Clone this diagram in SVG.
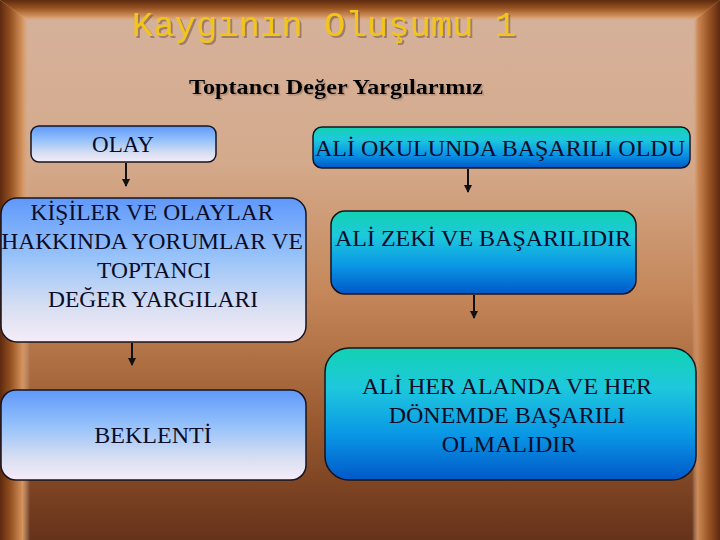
<svg xmlns="http://www.w3.org/2000/svg" width="720" height="540" viewBox="0 0 720 540">
  <defs>
    <linearGradient id="panel" x1="0" y1="0" x2="0" y2="1">
      <stop offset="0" stop-color="#d6b29c"/>
      <stop offset="0.3" stop-color="#d4aa8c"/>
      <stop offset="0.55" stop-color="#c48658"/>
      <stop offset="0.78" stop-color="#9a5a30"/>
      <stop offset="1" stop-color="#65321a"/>
    </linearGradient>
    <linearGradient id="bevL" x1="0" y1="0" x2="1" y2="0">
      <stop offset="0" stop-color="#5e2a10"/>
      <stop offset="0.35" stop-color="#94501f"/>
      <stop offset="0.75" stop-color="#d4945e"/>
      <stop offset="1" stop-color="#d6b29c" stop-opacity="0"/>
    </linearGradient>
    <linearGradient id="bevR" x1="1" y1="0" x2="0" y2="0">
      <stop offset="0" stop-color="#5e2a10"/>
      <stop offset="0.4" stop-color="#9a5424"/>
      <stop offset="0.8" stop-color="#cc8a56"/>
      <stop offset="1" stop-color="#d6b29c" stop-opacity="0"/>
    </linearGradient>
    <linearGradient id="bevT" x1="0" y1="0" x2="0" y2="1">
      <stop offset="0" stop-color="#5e2a10"/>
      <stop offset="0.35" stop-color="#94501f"/>
      <stop offset="0.75" stop-color="#d4945e"/>
      <stop offset="1" stop-color="#d6b29c" stop-opacity="0"/>
    </linearGradient>
    <linearGradient id="gBlue" x1="0" y1="0" x2="0" y2="1">
      <stop offset="0" stop-color="#5f98fa"/>
      <stop offset="0.4" stop-color="#96c2fa"/>
      <stop offset="0.75" stop-color="#d6def2"/>
      <stop offset="1" stop-color="#f6ecf8"/>
    </linearGradient>
    <linearGradient id="gTeal" x1="0" y1="0" x2="0" y2="1">
      <stop offset="0" stop-color="#12d2b2"/>
      <stop offset="0.3" stop-color="#1ec8dc"/>
      <stop offset="0.65" stop-color="#0a98e6"/>
      <stop offset="1" stop-color="#0058c8"/>
    </linearGradient>
    <filter id="shadow" x="-5%" y="-20%" width="110%" height="150%">
      <feDropShadow dx="2" dy="2" stdDeviation="0.6" flood-color="#7a5a44" flood-opacity="0.6"/>
    </filter>
    <filter id="shadowS" x="-5%" y="-20%" width="110%" height="150%">
      <feDropShadow dx="1.5" dy="1.5" stdDeviation="0.5" flood-color="#8a6a5a" flood-opacity="0.5"/>
    </filter>
    <marker id="arr" viewBox="0 0 8 8" refX="7" refY="4" markerWidth="8" markerHeight="8" markerUnits="userSpaceOnUse" orient="auto">
      <path d="M0,0 L8,4 L0,8 Z" fill="#111"/>
    </marker>
  </defs>
  <style>
    .box { stroke: #141420; stroke-width: 1.5; }
    .lb { fill: url(#gBlue); }
    .rb { fill: url(#gTeal); }
    .t { font-family: "Liberation Serif", "Times New Roman", serif; font-size: 24px; fill: #0c0c28; text-anchor: middle; }
    .conn line { stroke: #111; stroke-width: 2; marker-end: url(#arr); }
  </style>

  <!-- background frame -->
  <rect x="0" y="0" width="720" height="540" fill="url(#panel)"/>
  <polygon points="0,0 30,22 30,540 0,540" fill="url(#bevL)"/>
  <polygon points="720,0 692,22 692,540 720,540" fill="url(#bevR)"/>
  <polygon points="0,0 720,0 692,22 30,22" fill="url(#bevT)"/>

  <!-- titles -->
  <text x="324" y="36" font-family="'Liberation Mono', 'Courier New', monospace" font-size="35.6" fill="#f2c41c" text-anchor="middle" filter="url(#shadow)">Kaygının Oluşumu 1</text>
  <text x="336" y="94" font-family="'Liberation Serif', 'Times New Roman', serif" font-size="22" font-weight="bold" fill="#000" text-anchor="middle" textLength="294" lengthAdjust="spacingAndGlyphs" filter="url(#shadowS)">Toptancı Değer Yargılarımız</text>

  <!-- connectors -->
  <g id="connectors" class="conn">
    <line x1="126" y1="163" x2="126" y2="186"/>
    <line x1="132" y1="343" x2="132" y2="365"/>
    <line x1="468" y1="169" x2="468" y2="192"/>
    <line x1="474" y1="295" x2="474" y2="318"/>
  </g>

  <!-- nodes -->
  <g id="olay">
    <rect class="box lb" x="31" y="126" width="185" height="36" rx="8"/>
    <text class="t" x="123" y="152" style="font-size:23px">OLAY</text>
  </g>
  <g id="kisiler">
    <rect class="box lb" x="1" y="198" width="305" height="144" rx="16"/>
    <text class="t" x="152" y="220" style="font-size:23.5px">KİŞİLER VE OLAYLAR</text>
    <text class="t" x="152" y="249" style="font-size:23.5px">HAKKINDA YORUMLAR VE</text>
    <text class="t" x="154" y="278" style="font-size:23.5px">TOPTANCI</text>
    <text class="t" x="153" y="307" style="font-size:23.5px">DEĞER YARGILARI</text>
  </g>
  <g id="beklenti">
    <rect class="box lb" x="1" y="390" width="305" height="90" rx="15"/>
    <text class="t" x="153" y="443">BEKLENTİ</text>
  </g>
  <g id="ali-okulunda">
    <rect class="box rb" x="313" y="127" width="377" height="41" rx="9"/>
    <text class="t" x="500" y="156">ALİ OKULUNDA BAŞARILI OLDU</text>
  </g>
  <g id="ali-zeki">
    <rect class="box rb" x="331" y="211" width="305" height="83" rx="14"/>
    <text class="t" x="483" y="246">ALİ ZEKİ VE BAŞARILIDIR</text>
  </g>
  <g id="ali-her">
    <rect class="box rb" x="325" y="348" width="371" height="132" rx="24"/>
    <text class="t" x="507" y="394">ALİ HER ALANDA VE HER</text>
    <text class="t" x="507" y="423">DÖNEMDE BAŞARILI</text>
    <text class="t" x="509" y="452">OLMALIDIR</text>
  </g>
</svg>
